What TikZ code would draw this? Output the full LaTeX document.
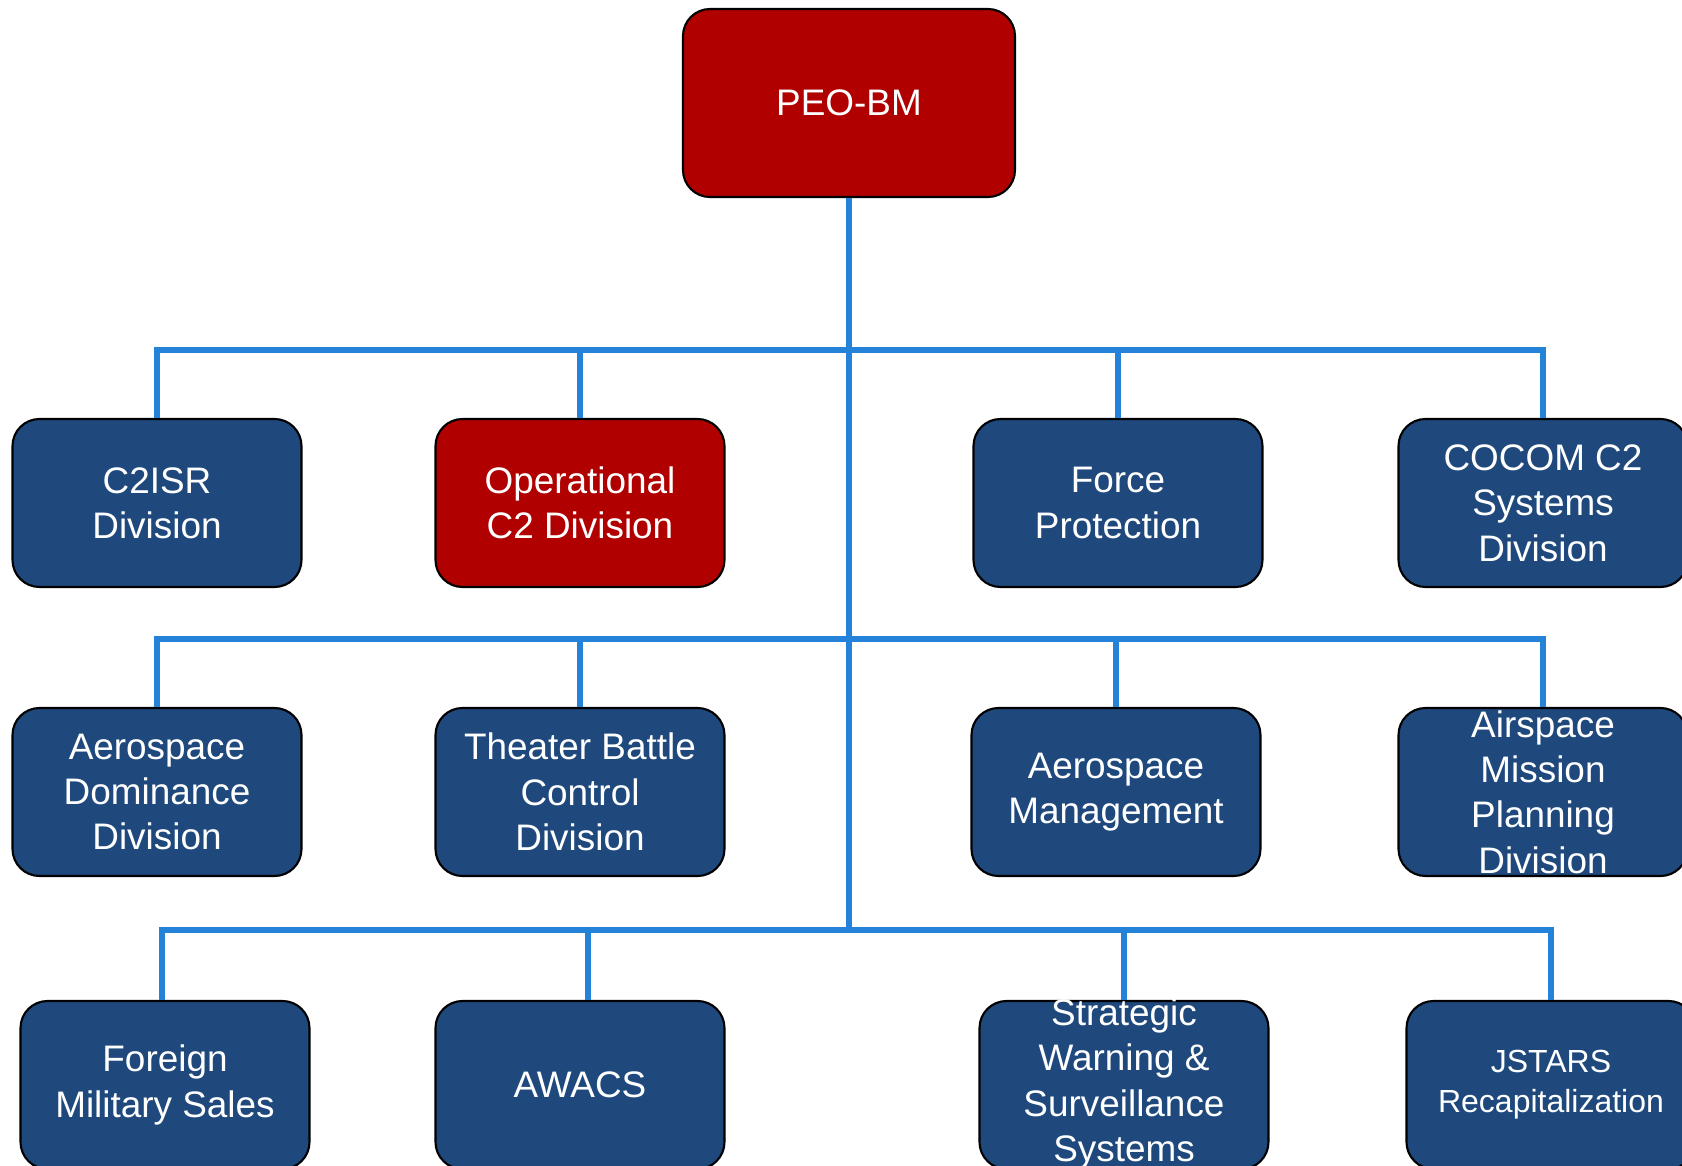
\documentclass[tikz,border=0pt]{standalone}
\usepackage{fontspec}
\setmainfont{Liberation Sans}
\usetikzlibrary{positioning}
\definecolor{peored}{RGB}{176,0,0}
\definecolor{divblue}{RGB}{31,73,125}
\definecolor{linkblue}{RGB}{36,131,216}

\begin{document}
\begin{tikzpicture}[
  divbox/.style={draw=black, line width=0.6pt, fill=divblue, rounded corners=0.27cm,
    minimum width=2.89cm, minimum height=1.68cm, inner sep=0pt,
    text=white, align=center, font=\fontsize{10.5}{12.9}\selectfont},
  redbox/.style={divbox, fill=peored},
  boxtext/.style={text=white, align=center, inner sep=0pt, font=\fontsize{10.5}{12.9}\selectfont},
  link/.style={draw=linkblue, line width=1.6pt}]
  \useasboundingbox (0,0) rectangle (16.82,11.65);

  % top
  \node[redbox, minimum width=3.32cm, minimum height=1.88cm] (peo) at (8.49,10.62) {PEO-BM};

  % first row
  \node[divbox] (c2isr)  at (1.57,6.62)  {C2ISR\\Division};
  \node[redbox] (opc2)   at (5.80,6.62)  {Operational\\C2 Division};
  \node[divbox] (force)  at (11.18,6.62) {Force\\Protection};
  \node[divbox] (cocom)  at (15.43,6.62) {COCOM C2\\Systems\\Division};

  % second row
  \node[divbox] (aerodom) at (1.57,3.73)  {Aerospace\\Dominance\\Division};
  \node[divbox] (theater) at (5.80,3.73)  {Theater Battle\\Control\\Division};
  \node[divbox] (aeromgt) at (11.16,3.73) {Aerospace\\Management};
  \node[divbox] (airspace) at (15.43,3.73) {};
  \node[boxtext] (airspace-txt) at (airspace) {Airspace\\Mission\\Planning\\Division};

  % third row
  \node[divbox] (fms)    at (1.65,0.80)  {Foreign\\Military Sales};
  \node[divbox] (awacs)  at (5.80,0.80)  {AWACS};
  \node[divbox] (swss)   at (11.24,0.80) {};
  \node[boxtext] (swss-txt) at (11.24,0.81) {Strategic\\Warning \&\\Surveillance\\Systems};
  \node[divbox, font=\fontsize{9.1}{11.4}\selectfont] (jstars) at (15.51,0.80) {JSTARS\\Recapitalization};

  % bars
  \coordinate (bar1) at (8.49,8.15);
  \coordinate (bar2) at (8.49,5.26);
  \coordinate (bar3) at (8.49,2.35);

  \draw[link] (peo.south) -- (peo.south |- bar3);  % trunk

  \draw[link] (c2isr.north) -- (c2isr.north |- bar1) -- (cocom.north |- bar1) -- (cocom.north);
  \draw[link] (opc2.north) -- (opc2.north |- bar1);
  \draw[link] (force.north) -- (force.north |- bar1);

  \draw[link] (aerodom.north) -- (aerodom.north |- bar2) -- (airspace.north |- bar2) -- (airspace.north);
  \draw[link] (theater.north) -- (theater.north |- bar2);
  \draw[link] (aeromgt.north) -- (aeromgt.north |- bar2);

  \draw[link] ([xshift=-0.03cm]fms.north) -- ([xshift=-0.03cm]fms.north |- bar3) -- (jstars.north |- bar3) -- (jstars.north);
  \draw[link] ([xshift=0.08cm]awacs.north) -- ([xshift=0.08cm]awacs.north |- bar3);
  \draw[link] (swss.north) -- (swss.north |- bar3);
\end{tikzpicture}
\end{document}
